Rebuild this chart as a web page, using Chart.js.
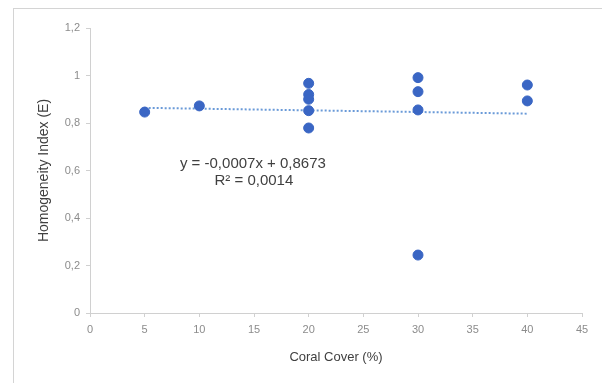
<!DOCTYPE html>
<html>
<head>
<meta charset="utf-8">
<script src="https://cdn.jsdelivr.net/npm/chart.js@4/dist/chart.umd.min.js"></script>
<style>
  html, body { margin: 0; padding: 0; background: #fff; }
  #wrap { position: relative; width: 602px; height: 383px; }
</style>
</head>
<body>
<div id="wrap"><canvas id="chart1"></canvas></div>
<script>
// coral cover (%) and homogeneity index
const coverX = [5, 10, 20, 20, 20, 20, 20, 30, 30, 30, 30, 40, 40];
const indexY = [0.846, 0.872, 0.967, 0.92, 0.9, 0.852, 0.779, 0.991, 0.932, 0.855, 0.244, 0.96, 0.893];

// trendline as printed on the chart
const slope = -0.0007;
const intercept = 0.8673;
const trendX = [5, 40];
const equationLines = ['y = -0,0007x + 0,8673', 'R\u00b2 = 0,0014'];

const points = coverX.map((x, i) => ({ x: x, y: indexY[i] }));
const trend = trendX.map(x => ({ x: x, y: slope * x + intercept }));

// frame round the chart + equation label
const extras = {
    id: 'extras',
    beforeDraw(chart) {
        const ctx = chart.ctx;
        ctx.save();
        ctx.fillStyle = '#fff';
        ctx.fillRect(0, 0, chart.width, chart.height);
        ctx.strokeStyle = '#d4d4d4';
        ctx.lineWidth = 1;
        ctx.strokeRect(13.5, 8.5, 600, 390);
        ctx.restore();
    },
    afterDatasetsDraw(chart) {
        const ctx = chart.ctx;
        const xs = chart.scales.x, ys = chart.scales.y;
        const cx = xs.getPixelForValue(14.9);
        const cy = ys.getPixelForValue(0.628);
        ctx.save();
        ctx.font = '15px "Liberation Sans", Arial, sans-serif';
        ctx.fillStyle = '#404040';
        ctx.textAlign = 'center';
        ctx.textBaseline = 'middle';
        ctx.fillText(equationLines[0], cx, cy);
        ctx.fillText(equationLines[1], cx + 1, cy + 17);
        ctx.restore();
    }
};

const ctx = document.querySelector('#chart1');
new Chart(ctx, {
    type: 'scatter',
    data: {
        datasets: [{
            data: points,
            backgroundColor: '#3a66c4',
            borderColor: '#3a66c4',
            pointRadius: 5,
            pointHoverRadius: 5,
            order: 1
        }, {
            type: 'line',
            data: trend,
            borderColor: '#6a9ad8',
            borderWidth: 2,
            borderDash: [2, 2],
            pointRadius: 0,
            fill: false,
            order: 2
        }]
    },
    plugins: [extras],
    options: {
        responsive: true,
        maintainAspectRatio: false,
        animation: false,
        events: [],
        layout: { padding: { top: 28, right: 20, left: 36, bottom: 18 } },
        plugins: { legend: { display: false }, tooltip: { enabled: false } },
        scales: {
            x: {
                type: 'linear',
                min: 0,
                max: 45,
                ticks: {
                    stepSize: 5,
                    color: '#8c8c8c',
                    font: { size: 11, family: '"Liberation Sans", Arial, sans-serif' },
                    padding: 6,
                    maxRotation: 0
                },
                grid: { drawOnChartArea: false, tickLength: 4, color: '#d0d0d0' },
                border: { color: '#d0d0d0', width: 1 },
                title: {
                    display: true,
                    text: 'Coral Cover (%)',
                    color: '#404040',
                    font: { size: 13, family: '"Liberation Sans", Arial, sans-serif' },
                    padding: { top: 0, bottom: 0 }
                },
                afterFit(scale) { scale.height = 52; }
            },
            y: {
                min: 0,
                max: 1.2,
                ticks: {
                    stepSize: 0.2,
                    color: '#8c8c8c',
                    font: { size: 11, family: '"Liberation Sans", Arial, sans-serif' },
                    padding: 6,
                    callback: v => String(Math.round(v * 10) / 10).replace('.', ',')
                },
                grid: { drawOnChartArea: false, tickLength: 4, color: '#d0d0d0' },
                border: { color: '#d0d0d0', width: 1 },
                title: {
                    display: true,
                    text: 'Homogeneity Index (E)',
                    color: '#404040',
                    font: { size: 14, family: '"Liberation Sans", Arial, sans-serif' },
                    padding: { top: 0, bottom: 0 }
                },
                afterFit(scale) { scale.width = 54; }
            }
        }
    }
});
</script>
</body>
</html>
